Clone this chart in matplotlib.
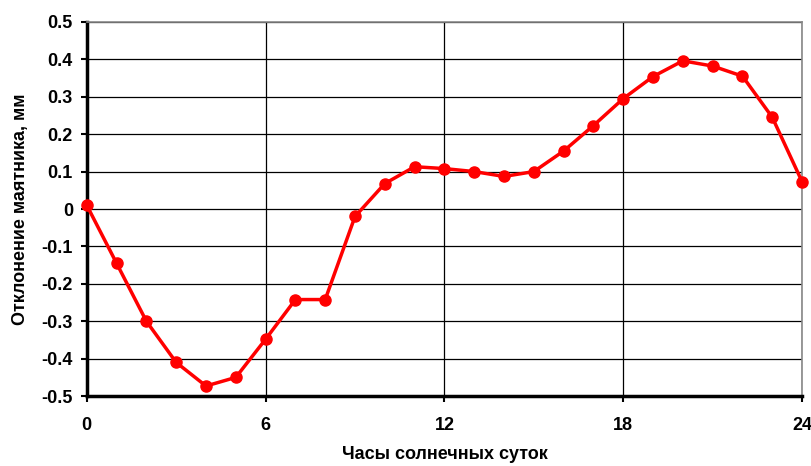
import matplotlib
matplotlib.use("Agg")
import matplotlib.pyplot as plt

# hours of solar day and pendulum deviation, mm
hours = list(range(0, 25))
deviation = [0.01, -0.145, -0.30, -0.41, -0.473, -0.45, -0.348, -0.242, -0.242,
             -0.02, 0.068, 0.113, 0.108, 0.10, 0.087, 0.10, 0.155, 0.223, 0.295,
             0.354, 0.396, 0.382, 0.355, 0.245, 0.073]
x_ticks = [0, 6, 12, 18, 24]
y_ticks = [-0.5, -0.4, -0.3, -0.2, -0.1, 0, 0.1, 0.2, 0.3, 0.4, 0.5]
y_tick_labels = ["-0.5", "-0.4", "-0.3", "-0.2", "-0.1", "0", "0.1", "0.2", "0.3", "0.4", "0.5"]

plt.rcParams['font.family'] = ['Liberation Sans', 'DejaVu Sans']

fig = plt.figure(figsize=(8.11, 4.66), dpi=100)
ax = fig.add_axes([0.107, 0.150, 0.882, 0.803])

ax.plot(hours, deviation, color='#ff0000', linewidth=2.5, marker='o',
        markersize=8, clip_on=False, zorder=5)

ax.set_xlim(0, 24)
ax.set_ylim(-0.5, 0.5)
ax.set_xticks(x_ticks)
ax.set_yticks(y_ticks)
ax.set_yticklabels(y_tick_labels)

# grid
ax.grid(True, color='black', linewidth=0.9)
ax.set_axisbelow(True)

# spines
ax.spines['left'].set_linewidth(2.5)
ax.spines['bottom'].set_linewidth(2.5)
ax.spines['top'].set_color('#888888')
ax.spines['right'].set_color('#888888')
ax.spines['top'].set_linewidth(1.2)
ax.spines['right'].set_linewidth(1.2)

ax.tick_params(axis='both', direction='out', length=4, width=1.5,
               labelsize=13)
ax.tick_params(axis='x', pad=11)
ax.tick_params(axis='y', pad=6)
for lbl in ax.get_xticklabels() + ax.get_yticklabels():
    lbl.set_fontweight('bold')

ax.set_xlabel('Часы солнечных суток', fontsize=13, fontweight='bold', labelpad=9)
ax.set_ylabel('Отклонение маятника, мм', fontsize=13, fontweight='bold', labelpad=9)

fig.savefig('out.png', dpi=100)
